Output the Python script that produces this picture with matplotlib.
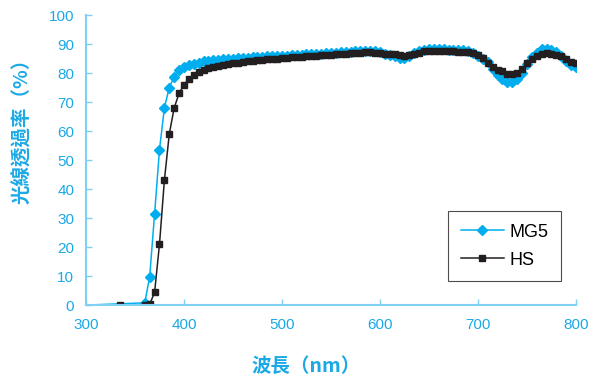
import numpy as np
import matplotlib
matplotlib.use("Agg")
import matplotlib.pyplot as plt

plt.rcParams['font.family'] = ['Liberation Sans', 'DejaVu Sans']

# data (wavelength nm, transmittance %)
wl_hs = [300, 335, 360, 365, 370, 375, 380, 385, 390, 395, 400, 405, 410, 415, 420,
         425, 430, 435, 440, 445, 450, 455, 460, 465, 470, 475, 480, 485, 490, 495,
         500, 505, 510, 515, 520, 525, 530, 535, 540, 545, 550, 555, 560, 565, 570,
         575, 580, 585, 590, 595, 600, 605, 610, 615, 620, 625, 630, 635, 640, 645,
         650, 655, 660, 665, 670, 675, 680, 685, 690, 695, 700, 705, 710, 715, 720,
         725, 730, 735, 740, 745, 750, 755, 760, 765, 770, 775, 780, 785, 790, 795, 800]
hs = [0, 0, 0, 0.3, 4.4, 21, 43, 59, 68, 73, 76, 78, 79.2, 80.2, 81,
      81.6, 82.1, 82.5, 82.9, 83.2, 83.4, 83.6, 83.8, 84.0, 84.2, 84.4, 84.6, 84.8, 84.9, 85.0,
      85.2, 85.3, 85.4, 85.5, 85.6, 85.8, 85.9, 86.0, 86.1, 86.2, 86.3, 86.4, 86.5, 86.6, 86.8,
      87.0, 87.0, 87.1, 87.1, 87.0, 87.0, 86.7, 86.5, 86.4, 86.2, 85.9, 86.1, 86.6, 87.0, 87.5,
      87.6, 87.7, 87.7, 87.7, 87.6, 87.5, 87.4, 87.3, 87.1, 86.8, 86.3, 85.2, 83.6, 82.0, 81.1,
      80.8, 79.7, 79.8, 80.1, 81.3, 83.3, 84.8, 85.8, 86.5, 86.8, 86.6, 86.2, 85.8, 85.0, 83.8, 83.3]

wl_mg5 = [300, 360, 365, 370, 375, 380, 385, 390, 395, 400, 405, 410, 415, 420,
          425, 430, 435, 440, 445, 450, 455, 460, 465, 470, 475, 480, 485, 490, 495,
          500, 505, 510, 515, 520, 525, 530, 535, 540, 545, 550, 555, 560, 565, 570,
          575, 580, 585, 590, 595, 600, 605, 610, 615, 620, 625, 630, 635, 640, 645,
          650, 655, 660, 665, 670, 675, 680, 685, 690, 695, 700, 705, 710, 715, 720,
          725, 730, 735, 740, 745, 750, 755, 760, 765, 770, 775, 780, 785, 790, 795, 800]
mg5 = [0, 0.8, 9.8, 31.4, 53.6, 68, 75, 78.7, 81, 82.0, 82.7, 83.2, 83.6, 84.0,
       84.2, 84.4, 84.6, 84.8, 84.9, 85.0, 85.1, 85.2, 85.3, 85.4, 85.5, 85.6, 85.7, 85.8, 85.9,
       86.0, 86.0, 86.1, 86.2, 86.3, 86.4, 86.4, 86.5, 86.6, 86.8, 86.9, 87.0, 87.1, 87.2, 87.3,
       87.5, 87.5, 87.6, 87.6, 87.5, 87.3, 86.7, 86.2, 85.8, 85.3, 85.2, 85.8, 86.8, 87.5, 88.0,
       88.2, 88.3, 88.3, 88.2, 88.1, 88.0, 87.9, 87.8, 87.6, 87.0, 86.0, 85.0, 83.8, 81.5, 79.2,
       77.8, 76.8, 77.0, 78.0, 80.0, 83.0, 85.5, 87.0, 88.2, 88.3, 87.8, 87.2, 85.8, 84.2, 82.8, 82.0]

cyan = '#1ba9e6'
axis_col = '#7fd0f2'
cjk = ['Noto Sans CJK TC', 'DejaVu Sans']

fig = plt.figure(figsize=(6, 3.8), dpi=100)
ax = fig.add_axes([0.1433, 0.197, 0.8167, 0.7635])

ax.plot(wl_mg5, mg5, color='#00aeef', lw=1.1, marker='D', ms=5.5,
        markevery=slice(1, None), label='MG5')
ax.plot(wl_hs, hs, color='#231f20', lw=1.1, marker='s', ms=5,
        markevery=slice(1, None), label='HS')

ax.set_xlim(300, 800)
ax.set_ylim(0, 100)
ax.set_xticks(np.arange(300, 801, 100))
ax.set_yticks(np.arange(0, 101, 10))

for s in ['top', 'right']:
    ax.spines[s].set_visible(False)
for s in ['left', 'bottom']:
    ax.spines[s].set_color(axis_col)
    ax.spines[s].set_linewidth(1.5)
ax.tick_params(direction='in', length=4, width=1, color=axis_col,
               labelcolor=cyan, labelsize=11, pad=9)
ax.tick_params(axis='y', pad=8.5)

ax.set_xlabel('波長（nm）', family=cjk, color=cyan, fontsize=14,
              fontweight='bold')
ax.xaxis.set_label_coords(0.45, -0.18)
ax.set_ylabel('光線透過率（%）', family=cjk, color=cyan, fontsize=14,
              fontweight='bold')
ax.yaxis.set_label_coords(-0.11, 0.615)

leg = ax.legend(loc='upper left', bbox_to_anchor=(0.739, 0.324), fontsize=13,
                frameon=True, fancybox=False, handlelength=2.4, borderaxespad=0,
                borderpad=0.7, labelspacing=0.6, handletextpad=0.3)
leg.get_frame().set_edgecolor('#231f20')
leg.get_frame().set_linewidth(0.8)

fig.savefig('out.png', dpi=100)
